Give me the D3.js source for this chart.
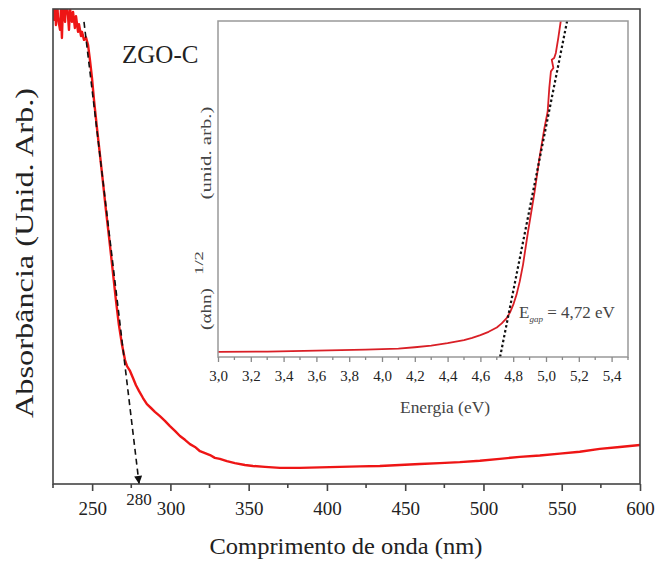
<!DOCTYPE html>
<html>
<head>
<meta charset="utf-8">
<script src="https://cdn.jsdelivr.net/npm/d3@7"></script>
<style>
  body { margin: 0; background: #fff; }
  text { font-family: "Liberation Serif", "Times New Roman", serif; fill: #222; }
</style>
</head>
<body>
<div id="chart"></div>
<script>
// main spectrum: wavelength (nm) vs absorbance (arb.)
const wavelength = [225.0, 225.6, 226.3, 226.9, 227.6, 228.2, 229.5, 230.1, 230.7, 231.4, 232.7, 233.3,
  234.6, 235.2, 235.9, 237.1, 237.8, 239.0, 239.7, 241.0, 241.6, 242.9, 243.5, 244.8, 246.1, 247.4,
  248.6, 249.9, 251.2, 253.1, 255.0, 256.9, 258.8, 260.8, 262.7, 265.2, 267.1, 269.1, 271.0, 272.3,
  274.2, 276.1, 278.0, 279.9, 282.5, 285.0, 287.6, 290.1, 293.3, 296.5, 299.7, 302.9, 306.1, 309.3,
  312.5, 315.7, 318.9, 322.1, 325.3, 328.4, 331.6, 336.1, 341.2, 347.6, 352.7, 360.4, 370.0, 382.7,
  395.5, 408.3, 421.0, 433.8, 446.6, 459.4, 472.1, 484.9, 497.7, 510.4, 523.2, 536.0, 548.8, 561.5,
  574.3, 587.1, 600.0];
const absorbance = [1.02, 0.977, 1.01, 0.966, 1.02, 0.981, 0.956, 1.0, 0.939, 1.01, 0.973, 1.02,
  0.985, 0.956, 1.0, 0.973, 0.994, 0.960, 0.985, 0.952, 0.968, 0.943, 0.952, 0.935, 0.940, 0.924,
  0.893, 0.855, 0.808, 0.749, 0.693, 0.636, 0.577, 0.520, 0.463, 0.387, 0.335, 0.293, 0.261, 0.248,
  0.238, 0.223, 0.208, 0.196, 0.181, 0.168, 0.160, 0.152, 0.143, 0.133, 0.122, 0.112, 0.101, 0.093,
  0.084, 0.078, 0.069, 0.065, 0.061, 0.055, 0.053, 0.048, 0.044, 0.040, 0.038, 0.036, 0.034, 0.034,
  0.035, 0.036, 0.037, 0.038, 0.040, 0.042, 0.044, 0.046, 0.049, 0.053, 0.057, 0.060, 0.064, 0.068,
  0.074, 0.078, 0.082];

// tangent (dashed arrow) to the absorption edge
const tangentWl = [244.8, 280];
const tangentAbs = [0.973, 0];

// inset: Tauc plot
const energy = [3.0, 3.3, 3.6, 3.9, 4.1, 4.2, 4.3, 4.4, 4.5, 4.55, 4.6, 4.65, 4.7, 4.73, 4.76, 4.78,
  4.80, 4.82, 4.84, 4.86, 4.89, 4.93, 4.96, 4.99, 5.01, 5.02, 5.03, 5.045, 5.035, 5.05, 5.06, 5.075,
  5.09, 5.11];
const tauc = [0.015, 0.016, 0.019, 0.022, 0.025, 0.029, 0.034, 0.041, 0.050, 0.057, 0.065, 0.075,
  0.088, 0.100, 0.116, 0.132, 0.155, 0.185, 0.225, 0.275, 0.372, 0.49, 0.592, 0.68, 0.73, 0.80, 0.85,
  0.86, 0.885, 0.89, 0.905, 0.95, 1.0, 1.05];
const fitEnergy = [4.72, 5.13];
const fitTauc = [0, 1.003];

const mainTicks = [250, 300, 350, 400, 450, 500, 550, 600];
const mainMinor = [225, 275, 325, 375, 425, 475, 525, 575];
const insetTicks = [3.0, 3.2, 3.4, 3.6, 3.8, 4.0, 4.2, 4.4, 4.6, 4.8, 5.0, 5.2, 5.4];
const insetMinor = [3.1, 3.3, 3.5, 3.7, 3.9, 4.1, 4.3, 4.5, 4.7, 4.9, 5.1, 5.3, 5.5];

const width = 657;
const height = 561;
const main = { left: 53, right: 640, top: 9, bottom: 484 };
const inset = { left: 218, right: 628, top: 21, bottom: 357 };
const serif = "'Liberation Serif', 'Times New Roman', serif";

const svg = d3.select("#chart").append("svg")
  .attr("width", width)
  .attr("height", height);

const x = d3.scaleLinear().domain([225, 600]).range([main.left, main.right]);
const y = d3.scaleLinear().domain([0, 1]).range([main.bottom, main.top]);
const xi = d3.scaleLinear().domain([3.0, 5.5]).range([inset.left, inset.right]);
const yi = d3.scaleLinear().domain([0, 1]).range([inset.bottom, inset.top]);

const defs = svg.append("defs");
defs.append("clipPath").attr("id", "clip-main").append("rect")
  .attr("x", main.left).attr("y", main.top)
  .attr("width", main.right - main.left).attr("height", main.bottom - main.top);
defs.append("clipPath").attr("id", "clip-inset").append("rect")
  .attr("x", inset.left).attr("y", inset.top)
  .attr("width", inset.right - inset.left).attr("height", inset.bottom - inset.top);
defs.append("marker")
  .attr("id", "arrow")
  .attr("markerUnits", "userSpaceOnUse")
  .attr("viewBox", "0 0 10 10")
  .attr("refX", 10).attr("refY", 5)
  .attr("markerWidth", 11).attr("markerHeight", 8)
  .attr("orient", "auto")
  .append("path").attr("d", "M0,0 L10,5 L0,10 z").attr("fill", "#111");

// main curve
const line = d3.line().x((d, i) => x(wavelength[i])).y((d) => y(d));
svg.append("path")
  .datum(absorbance)
  .attr("clip-path", "url(#clip-main)")
  .attr("d", line)
  .attr("fill", "none")
  .attr("stroke", "#ee1515")
  .attr("stroke-width", 2.4)
  .attr("stroke-linejoin", "round");

// dashed tangent with arrow
svg.append("path")
  .datum(tangentAbs)
  .attr("d", d3.line().x((d, i) => x(tangentWl[i])).y((d) => y(d)))
  .attr("fill", "none")
  .attr("stroke", "#111")
  .attr("stroke-width", 1.6)
  .attr("stroke-dasharray", "6,4")
  .attr("marker-end", "url(#arrow)");

// main frame
svg.append("rect")
  .attr("x", main.left).attr("y", main.top)
  .attr("width", main.right - main.left).attr("height", main.bottom - main.top)
  .attr("fill", "none").attr("stroke", "#444").attr("stroke-width", 1.6);

// main x axis
const xAxis = svg.append("g")
  .attr("transform", `translate(0,${main.bottom})`)
  .attr("font-family", serif)
  .call(d3.axisBottom(x).tickValues(mainTicks).tickSize(7).tickFormat(d3.format("d")));
xAxis.attr("font-family", serif).attr("font-size", 19);
xAxis.select(".domain").remove();
xAxis.selectAll("line").attr("stroke", "#444").attr("stroke-width", 1.6);
xAxis.selectAll("text").attr("dy", null).attr("y", 31).attr("fill", "#222");
svg.append("g").selectAll("line").data(mainMinor).enter().append("line")
  .attr("x1", (d) => x(d)).attr("x2", (d) => x(d))
  .attr("y1", main.bottom).attr("y2", main.bottom + 4)
  .attr("stroke", "#444").attr("stroke-width", 1.6);

svg.append("text")
  .attr("x", x(280)).attr("y", 505)
  .attr("text-anchor", "middle")
  .style("font-size", "17px")
  .text("280");

svg.append("text")
  .attr("x", 346).attr("y", 554)
  .attr("text-anchor", "middle")
  .attr("textLength", 273)
  .attr("lengthAdjust", "spacingAndGlyphs")
  .style("font-size", "23px")
  .text("Comprimento de onda (nm)");

svg.append("text")
  .attr("transform", "translate(33,253) rotate(-90)")
  .attr("text-anchor", "middle")
  .attr("textLength", 330)
  .attr("lengthAdjust", "spacingAndGlyphs")
  .style("font-size", "25px")
  .text("Absorbância (Unid. Arb.)");

svg.append("text")
  .attr("x", 122).attr("y", 63)
  .style("font-size", "25px")
  .text("ZGO-C");

// inset
svg.append("rect")
  .attr("x", inset.left).attr("y", inset.top)
  .attr("width", inset.right - inset.left).attr("height", inset.bottom - inset.top)
  .attr("fill", "#fff");

svg.append("path")
  .datum(tauc)
  .attr("clip-path", "url(#clip-inset)")
  .attr("d", d3.line().x((d, i) => xi(energy[i])).y((d) => yi(d)))
  .attr("fill", "none")
  .attr("stroke", "#d91f26")
  .attr("stroke-width", 1.8)
  .attr("stroke-linejoin", "round");

svg.append("path")
  .datum(fitTauc)
  .attr("d", d3.line().x((d, i) => xi(fitEnergy[i])).y((d) => yi(d)))
  .attr("fill", "none")
  .attr("stroke", "#111")
  .attr("stroke-width", 2.2)
  .attr("stroke-dasharray", "2.5,2.5");

svg.append("rect")
  .attr("x", inset.left).attr("y", inset.top)
  .attr("width", inset.right - inset.left).attr("height", inset.bottom - inset.top)
  .attr("fill", "none").attr("stroke", "#999").attr("stroke-width", 1.5);

const xiAxis = svg.append("g")
  .attr("transform", `translate(0,${inset.bottom})`)
  .call(d3.axisBottom(xi).tickValues(insetTicks).tickSize(5).tickFormat((d) => d3.format(".1f")(d).replace(".", ",")));
xiAxis.attr("font-family", serif).attr("font-size", 15);
xiAxis.select(".domain").remove();
xiAxis.selectAll("line").attr("stroke", "#888").attr("stroke-width", 1.3);
xiAxis.selectAll("text").attr("dy", null).attr("y", 24).attr("fill", "#555");
svg.append("g").selectAll("line").data(insetMinor).enter().append("line")
  .attr("x1", (d) => xi(d)).attr("x2", (d) => xi(d))
  .attr("y1", inset.bottom).attr("y2", inset.bottom + 3)
  .attr("stroke", "#888").attr("stroke-width", 1.3);

svg.append("text")
  .attr("x", 445).attr("y", 413)
  .attr("text-anchor", "middle")
  .attr("textLength", 90)
  .attr("lengthAdjust", "spacingAndGlyphs")
  .style("font-size", "16px").style("fill", "#444")
  .text("Energia (eV)");

// inset y label, split in three pieces
svg.append("text")
  .attr("transform", "translate(211,309) rotate(-90)")
  .attr("text-anchor", "middle")
  .attr("textLength", 42)
  .attr("lengthAdjust", "spacingAndGlyphs")
  .style("font-size", "15px").style("fill", "#444")
  .text("(αhn)");
svg.append("text")
  .attr("transform", "translate(203,263) rotate(-90)")
  .attr("text-anchor", "middle")
  .attr("textLength", 24)
  .attr("lengthAdjust", "spacingAndGlyphs")
  .style("font-size", "13px").style("fill", "#444")
  .text("1/2");
svg.append("text")
  .attr("transform", "translate(211,153) rotate(-90)")
  .attr("text-anchor", "middle")
  .attr("textLength", 93)
  .attr("lengthAdjust", "spacingAndGlyphs")
  .style("font-size", "15px").style("fill", "#444")
  .text("(unid. arb.)");

const egap = svg.append("text")
  .attr("x", 519).attr("y", 318)
  .style("font-size", "17px").style("fill", "#444");
egap.append("tspan").text("E");
egap.append("tspan").attr("dy", 4).style("font-size", "9px").style("font-style", "italic").text("gap");
egap.append("tspan").attr("dy", -4).text(" = 4,72 eV");
</script>
</body>
</html>
